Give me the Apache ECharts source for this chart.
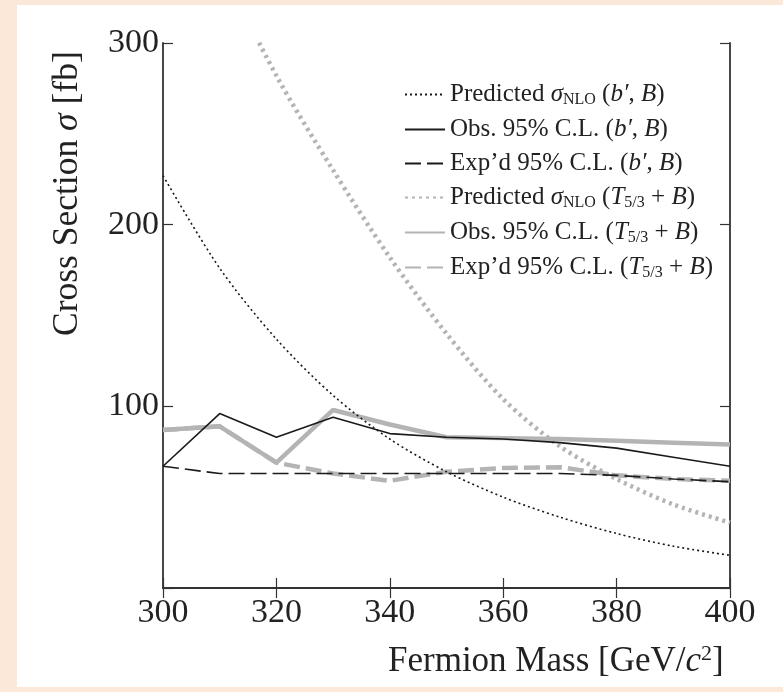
<!DOCTYPE html>
<html>
<head>
<meta charset="utf-8">
<script src="https://cdn.jsdelivr.net/npm/echarts@6/dist/echarts.min.js"></script>
<style>
html,body{margin:0;padding:0;background:#fce8d9;}
#c{width:783px;height:692px;}
</style>
</head>
<body>
<div id="c"></div>
<script>
var masses = [300, 310, 320, 330, 340, 350, 360, 370, 380, 390, 400];
var predB = [227, 176, 137, 106, 82, 64, 50, 39, 30, 23, 18];
var obsB = [67, 96, 83, 94, 85, 83, 82, 80, 77, 72, 67];
var expB = [67, 63, 63, 63, 63, 63, 63, 63, 62, 60, 58.5];
var predT = [420, 345, 282, 230, 182, 140, 104, 78, 60, 46, 36];
var obsT = [87, 89, 69, 98, 90, 83, 82.5, 82, 81, 80, 79];
var expT = [87, 89, 69, 63, 59, 64, 66, 66.5, 62, 60, 59];
var xTicks = [300, 320, 340, 360, 380, 400];
var yTicks = [100, 200, 300];

function pairs(v){ return masses.map(function(m,i){ return [m, v[i]]; }); }

var names = ['predB','obsB','expB','predT','obsT','expT'];
var labels = {
  predB: 'Predicted {i|σ}{sub|NLO} ({i|b′}, {i|B})',
  obsB: 'Obs. 95% C.L. ({i|b′}, {i|B})',
  expB: 'Exp’d 95% C.L. ({i|b′}, {i|B})',
  predT: 'Predicted {i|σ}{sub|NLO} ({i|T}{sub|5/3} + {i|B})',
  obsT: 'Obs. 95% C.L. ({i|T}{sub|5/3} + {i|B})',
  expT: 'Exp’d 95% C.L. ({i|T}{sub|5/3} + {i|B})'
};
var black = '#1a1a1a', grey = '#b4b4b4';
var styles = {
  predB: {color: black, width: 1.6, type: [2, 3]},
  obsB: {color: black, width: 1.6, type: 'solid'},
  expB: {color: black, width: 1.6, type: [16, 6]},
  predT: {color: grey, width: 4.5, type: [3, 4]},
  obsT: {color: grey, width: 4.5, type: 'solid'},
  expT: {color: grey, width: 4.5, type: [16, 6]}
};
var dataMap = {predB: predB, obsB: obsB, expB: expB, predT: predT, obsT: obsT, expT: expT};

var serif = 'Liberation Serif';
var chart = echarts.init(document.getElementById('c'));
chart.setOption({
  backgroundColor: 'transparent',
  animation: false,
  graphic: [
    {type: 'rect', z: -10, shape: {x: 17, y: 5, width: 766, height: 682}, style: {fill: '#ffffff'}},
    {type: 'text', left: 388, top: 643, style: {text: 'Fermion Mass [GeV/{i|c}{sup|2}]', font: '35px "Liberation Serif"', fill: '#222',
      rich: {i: {fontStyle: 'italic', fontSize: 35, fontFamily: serif}, sup: {fontSize: 22, fontFamily: serif, padding: [0, 0, 16, 0]}}}},
    {type: 'text', x: 50, y: 336, rotation: Math.PI / 2, style: {text: 'Cross Section {i|σ} [fb]', font: '35.5px "Liberation Serif"', fill: '#222',
      rich: {i: {fontStyle: 'italic', fontSize: 35.5, fontFamily: serif}}}}
  ],
  grid: {left: 163, right: 53, top: 43, bottom: 104, containLabel: false},
  xAxis: [
    {type: 'value', min: 300, max: 400, interval: 20, position: 'bottom',
      axisLine: {lineStyle: {color: '#333', width: 1.8}},
      axisTick: {inside: true, length: 10, lineStyle: {color: '#333', width: 1.2}},
      axisLabel: {color: '#222', fontFamily: serif, fontSize: 34, margin: 8},
      splitLine: {show: false}},
    {type: 'value', min: 300, max: 400, interval: 20, position: 'top',
      axisLine: {lineStyle: {color: '#333', width: 1.8}},
      axisTick: {inside: true, length: 10, lineStyle: {color: '#333', width: 1.2}},
      axisLabel: {show: false}, splitLine: {show: false}}
  ],
  yAxis: [
    {type: 'value', min: 0, max: 300, interval: 100, position: 'left',
      axisLine: {show: true, lineStyle: {color: '#333', width: 1.8}},
      axisTick: {show: true, inside: true, length: 10, lineStyle: {color: '#333', width: 1.2}},
      axisLabel: {color: '#222', fontFamily: serif, fontSize: 34, margin: 4,
        formatter: function(v){ return yTicks.indexOf(v) >= 0 ? String(v) : ''; }},
      splitLine: {show: false}},
    {type: 'value', min: 0, max: 300, interval: 100, position: 'right',
      axisLine: {show: true, lineStyle: {color: '#333', width: 1.8}},
      axisTick: {show: true, inside: true, length: 10, lineStyle: {color: '#333', width: 1.2}},
      axisLabel: {show: false}, splitLine: {show: false}}
  ],
  legend: {
    orient: 'vertical', left: 399, top: 77, itemWidth: 40, itemHeight: 20, itemGap: 9,
    data: names,
    itemStyle: {opacity: 0, borderWidth: 0},
    formatter: function(n){ return labels[n]; },
    textStyle: {color: '#222', fontFamily: serif, fontSize: 25,
      rich: {i: {fontStyle: 'italic', fontFamily: serif, fontSize: 25, color: '#222'},
             sub: {fontFamily: serif, fontSize: 16, color: '#222', padding: [11, 0, 0, 0]}}}
  },
  series: names.map(function(n){
    var s = styles[n];
    return {name: n, type: 'line', data: pairs(dataMap[n]), symbol: 'none', clip: true,
      smooth: n.indexOf('pred') === 0 ? 0.3 : false,
      z: n.slice(-1) === 'T' ? 2 : 3,
      itemStyle: {color: s.color},
      lineStyle: {color: s.color, width: s.width, type: s.type}};
  })
});
</script>
</body>
</html>
